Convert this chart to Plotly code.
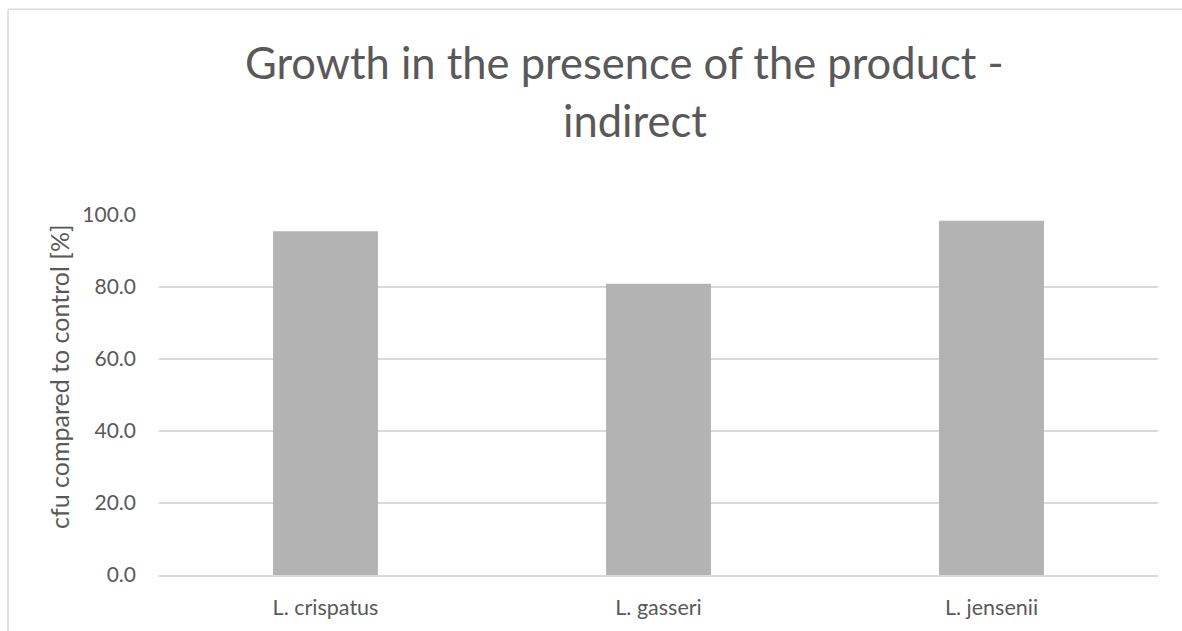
import plotly.graph_objects as go

categories = ["L. crispatus", "L. gasseri", "L. jensenii"]
values = [95.5, 80.9, 98.4]
y_ticks = [0, 20, 40, 60, 80, 100]
title_lines = ["Growth in the presence of the product -", "indirect"]
y_title = "cfu compared to control [%]"

FONT = "Lato, 'Open Sans', sans-serif"
TXT = "#595959"

W, H = 1182, 631
L, R, T, B = 159, 24, 215, 56
PW, PH = W - L - R, H - T - B


def px(xp):  # page x -> paper
    return (xp - L) / PW


def py(yp):  # page y -> paper
    return (H - B - yp) / PH


fig = go.Figure(go.Bar(
    x=categories, y=values,
    marker=dict(color="#b3b3b3", line=dict(width=0)),
    width=0.315,
))

fig.update_layout(
    width=W, height=H,
    margin=dict(l=L, r=R, t=T, b=B),
    paper_bgcolor="white", plot_bgcolor="white",
    showlegend=False,
    font=dict(family=FONT, color=TXT),
    xaxis=dict(showgrid=False, showline=True, linecolor="#d9d9d9", linewidth=1.5,
               tickfont=dict(size=21.5, color=TXT), ticks="", ticklabelstandoff=12),
    yaxis=dict(range=[0, 100], tickvals=y_ticks, tickformat=".1f",
               showgrid=True, gridcolor="#d9d9d9", gridwidth=1.5,
               zeroline=False, showline=False, ticks="",
               tickfont=dict(size=21, color=TXT), ticklabelstandoff=22),
)

fig.add_annotation(text=title_lines[0], xref="paper", yref="paper",
                   x=px(624), y=py(62), xanchor="center", yanchor="middle",
                   showarrow=False, font=dict(family=FONT, size=43.5, color=TXT))
fig.add_annotation(text=title_lines[1], xref="paper", yref="paper",
                   x=px(635), y=py(120), xanchor="center", yanchor="middle",
                   showarrow=False, font=dict(family=FONT, size=43.5, color=TXT))
fig.add_annotation(text=y_title, xref="paper", yref="paper",
                   x=px(59), y=py(377), xanchor="center", yanchor="middle",
                   textangle=-90, showarrow=False,
                   font=dict(family=FONT, size=25, color=TXT))

# outer chart frame (only left and top edges are visible in the window)
fig.add_shape(type="line", xref="paper", yref="paper",
              x0=px(8), x1=px(8), y0=py(700), y1=py(9.3),
              line=dict(color="#d9d9d9", width=1.5), layer="below")
fig.add_shape(type="line", xref="paper", yref="paper",
              x0=px(8), x1=px(1300), y0=py(9.3), y1=py(9.3),
              line=dict(color="#d9d9d9", width=1.5), layer="below")

fig.write_html(
    "out.html",
    config={"displayModeBar": False},
    post_script="document.body.style.margin='0';document.body.style.overflow='hidden';",
)
